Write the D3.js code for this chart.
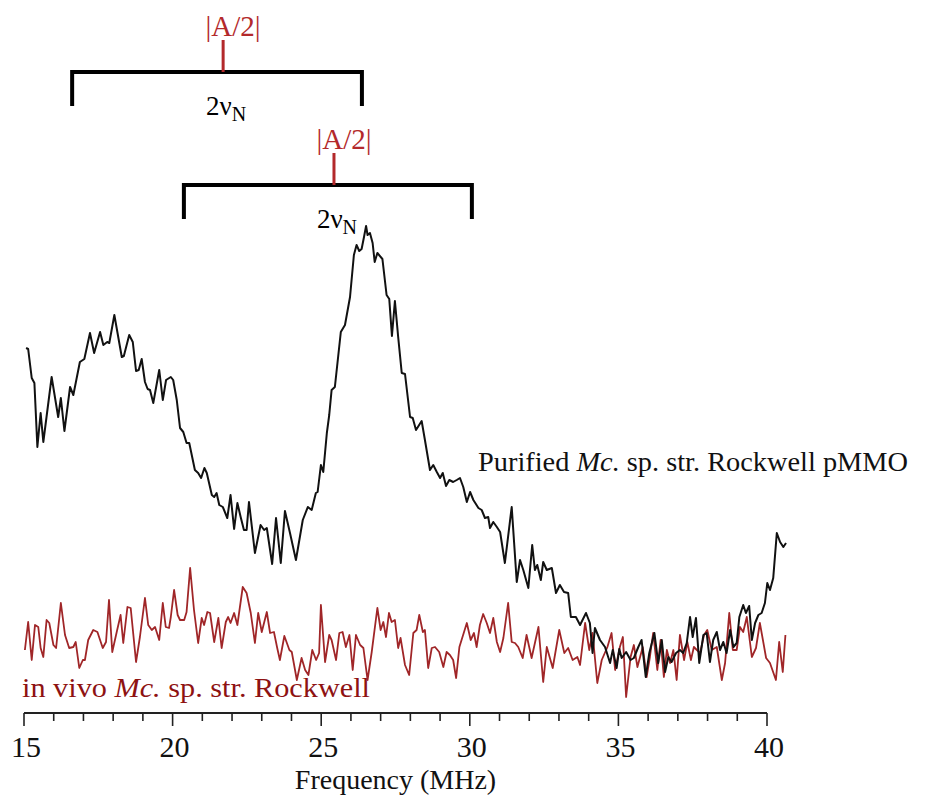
<!DOCTYPE html>
<html>
<head>
<meta charset="utf-8">
<script src="https://cdn.jsdelivr.net/npm/d3@7"></script>
<style>
  html, body { margin: 0; padding: 0; background: #fff; }
  svg { display: block; }
  text { font-family: "Liberation Serif", "Times New Roman", serif; }
</style>
</head>
<body>
<svg id="chart" width="929" height="795"></svg>
<script>
// ---- Data (frequency in MHz, signal in arbitrary units) ----
const xTicks = [15, 20, 25, 30, 35, 40];
const xMinorTicks = d3.range(15, 41, 1);
const xLabel = "Frequency (MHz)";

const purified = [
  [15.07,365],[15.14,364],[15.26,335],[15.35,330],[15.45,266],[15.56,300],[15.65,271],[15.93,336],
  [16.15,296],[16.24,315],[16.36,282],[16.55,326],[16.66,318],[16.88,351],[17.03,354],[17.22,380],
  [17.36,360],[17.56,381],[17.67,368],[17.80,371],[17.87,370],[18.04,398],[18.29,356],[18.36,357],
  [18.54,378],[18.66,371],[18.77,342],[18.86,343],[18.96,354],[19.07,331],[19.16,324],[19.24,323],
  [19.35,310],[19.55,343],[19.67,313],[19.78,333],[19.94,336],[20.02,333],[20.14,313],[20.25,285],
  [20.36,281],[20.47,270],[20.56,270],[20.75,243],[20.86,240],[20.96,235],[21.07,245],[21.15,240],
  [21.32,218],[21.40,216],[21.48,220],[21.57,208],[21.69,206],[21.84,195],[21.95,218],[22.07,184],
  [22.18,210],[22.29,196],[22.40,183],[22.49,183],[22.57,211],[22.77,160],[22.96,188],[23.08,183],
  [23.17,185],[23.35,149],[23.48,195],[23.64,150],[23.78,202],[23.95,180],[24.15,153],[24.38,193],
  [24.55,206],[24.68,203],[24.82,220],[24.88,221],[24.99,248],[25.07,241],[25.19,280],[25.27,298],
  [25.35,323],[25.46,326],[25.66,381],[25.80,388],[25.97,416],[26.10,458],[26.19,468],[26.28,462],
  [26.36,464],[26.44,476],[26.51,487],[26.56,478],[26.64,480],[26.73,470],[26.80,451],[26.89,460],
  [27.06,454],[27.20,418],[27.29,414],[27.38,377],[27.48,412],[27.59,376],[27.71,340],[27.82,339],
  [27.99,296],[28.08,295],[28.19,283],[28.38,292],[28.49,273],[28.66,243],[28.77,248],[28.89,241],
  [29.00,235],[29.09,240],[29.20,227],[29.31,233],[29.44,231],[29.56,233],[29.67,235],[29.78,226],
  [29.90,211],[30.01,221],[30.12,213],[30.29,205],[30.40,203],[30.51,195],[30.62,196],[30.68,185],
  [30.79,191],[30.91,186],[31.02,181],[31.18,150],[31.41,206],[31.58,131],[31.69,153],[31.80,143],
  [31.97,125],[32.10,168],[32.19,143],[32.27,148],[32.39,133],[32.47,151],[32.59,143],[32.76,145],
  [32.90,120],[33.03,128],[33.17,121],[33.31,120],[33.40,96],[33.57,96],[33.71,88],[33.91,100],
  [34.04,90],[34.13,60],[34.21,85],[34.38,73],[34.55,66],[34.72,50],[34.81,63],[34.94,45],
  [35.03,64],[35.11,55],[35.26,61],[35.41,53],[35.52,55],[35.67,66],[35.78,73],[35.92,36],
  [36.04,60],[36.21,80],[36.34,50],[36.46,73],[36.57,41],[36.68,56],[36.79,51],[36.94,60],
  [37.07,63],[37.18,60],[37.30,70],[37.41,96],[37.50,76],[37.61,95],[37.72,50],[37.86,78],
  [37.97,80],[38.08,51],[38.19,73],[38.31,81],[38.42,63],[38.53,71],[38.64,60],[38.76,83],
  [38.87,66],[38.98,70],[39.07,96],[39.20,108],[39.29,100],[39.40,107],[39.49,73],[39.60,90],
  [39.71,98],[39.82,100],[39.93,110],[40.01,130],[40.10,123],[40.21,135],[40.33,180],[40.44,171],
  [40.55,166],[40.64,170]
];

const inVivo = [
  [15.03,63],[15.14,91],[15.26,53],[15.37,88],[15.48,86],[15.56,65],[15.65,56],[15.76,93],
  [15.85,90],[15.99,68],[16.08,65],[16.24,110],[16.38,78],[16.52,65],[16.66,66],[16.74,71],
  [16.86,45],[16.98,53],[17.05,53],[17.16,73],[17.33,83],[17.47,81],[17.65,65],[17.76,71],
  [17.86,113],[17.97,61],[18.12,81],[18.25,98],[18.34,70],[18.48,106],[18.59,105],[18.77,51],
  [18.90,76],[19.07,115],[19.18,88],[19.30,83],[19.41,86],[19.55,73],[19.67,110],[19.77,86],
  [19.88,85],[19.94,96],[20.05,123],[20.17,98],[20.25,93],[20.39,93],[20.47,101],[20.59,145],
  [20.72,103],[20.86,70],[20.98,95],[21.06,88],[21.17,101],[21.26,100],[21.40,71],[21.54,95],
  [21.65,65],[21.79,91],[21.87,96],[21.95,90],[22.07,100],[22.18,88],[22.36,126],[22.49,120],
  [22.63,100],[22.77,70],[22.88,100],[23.00,81],[23.17,101],[23.28,80],[23.41,81],[23.52,65],
  [23.61,53],[23.76,77],[23.93,63],[24.01,61],[24.18,33],[24.34,55],[24.46,43],[24.57,38],
  [24.70,63],[24.83,53],[24.93,60],[24.99,108],[25.13,51],[25.27,78],[25.35,73],[25.50,53],
  [25.61,80],[25.72,81],[25.83,66],[25.95,78],[26.06,43],[26.17,78],[26.31,68],[26.42,65],
  [26.56,33],[26.70,61],[26.89,105],[27.00,83],[27.09,91],[27.18,76],[27.28,100],[27.37,91],
  [27.48,93],[27.59,65],[27.67,75],[27.82,48],[27.96,38],[28.10,80],[28.21,83],[28.30,98],
  [28.42,81],[28.49,83],[28.60,45],[28.72,65],[28.83,66],[28.97,61],[29.11,46],[29.22,61],
  [29.33,58],[29.44,53],[29.54,35],[29.65,66],[29.90,90],[30.03,73],[30.14,80],[30.23,66],
  [30.34,88],[30.45,99],[30.57,90],[30.68,80],[30.79,95],[30.91,71],[31.02,61],[31.13,75],
  [31.29,110],[31.41,71],[31.52,70],[31.63,66],[31.78,55],[31.91,78],[32.08,55],[32.31,86],
  [32.47,31],[32.59,66],[32.79,45],[33.01,83],[33.18,60],[33.31,65],[33.46,53],[33.62,56],
  [33.71,48],[33.88,90],[34.02,63],[34.13,80],[34.29,30],[34.44,53],[34.63,66],[34.77,80],
  [34.89,43],[35.05,66],[35.15,76],[35.26,16],[35.41,56],[35.52,68],[35.64,46],[35.82,66],
  [35.95,36],[36.06,56],[36.17,80],[36.31,43],[36.42,73],[36.53,36],[36.63,63],[36.74,50],
  [36.85,63],[36.96,33],[37.07,78],[37.21,53],[37.32,71],[37.44,53],[37.54,66],[37.64,63],
  [37.75,60],[37.88,78],[37.99,83],[38.14,63],[38.31,66],[38.48,33],[38.59,50],[38.73,100],
  [38.85,63],[38.98,63],[39.09,86],[39.20,81],[39.32,96],[39.49,56],[39.63,65],[39.76,90],
  [39.97,55],[40.10,50],[40.30,33],[40.41,71],[40.53,41],[40.62,78]
];

// Hyperfine annotation brackets: span of 2νN (MHz), centre |A/2| (MHz), bracket level (a.u.)
const bracketLo = [16.62, 20.38];
const bracketHi = [26.37, 30.07];
const bracketCentre = [21.70, 25.43];
const bracketLevel = [641, 528];

const seriesNames = ["Purified ", "Mc.", " sp. str. Rockwell pMMO"];
const vivoNames = ["in vivo ", "Mc.", " sp. str. Rockwell"];

// ---- Drawing ----
const svg = d3.select("#chart");
const x = d3.scaleLinear().domain([15, 40]).range([24, 767]);
const y = d3.scaleLinear().domain([0, 500]).range([713, 213]);

const BLACK = "#111";
const RED_LINE = "#a02628";
const RED_TEXT = "#8e1212";
const RED_ANN = "#b3292b";

// axis
const axisG = svg.append("g").attr("transform", `translate(0,${y(0)})`);
axisG.append("line")
  .attr("x1", x(15)).attr("x2", x(40)).attr("y1", 0).attr("y2", 0)
  .attr("stroke", "#222").attr("stroke-width", 2);
axisG.selectAll("line.minor").data(xMinorTicks).join("line")
  .attr("class", "minor")
  .attr("x1", d => x(d)).attr("x2", d => x(d))
  .attr("y1", 0).attr("y2", d => (d % 5 === 0 ? 13 : 8))
  .attr("stroke", "#222").attr("stroke-width", 1.6);
axisG.selectAll("text.tl").data(xTicks).join("text")
  .attr("class", "tl")
  .attr("x", d => x(d) + 2).attr("y", 44)
  .attr("text-anchor", "middle")
  .attr("font-size", 30)
  .attr("fill", "#111")
  .text(d => d);
svg.append("text")
  .attr("x", (x(15) + x(40)) / 2).attr("y", 789)
  .attr("text-anchor", "middle")
  .attr("font-size", 28)
  .attr("fill", "#111")
  .text(xLabel);

// traces
const line = d3.line().x(d => x(d[0])).y(d => y(d[1]));
svg.append("path").datum(inVivo)
  .attr("d", line).attr("fill", "none")
  .attr("stroke", RED_LINE).attr("stroke-width", 1.8).attr("stroke-linejoin", "round");
svg.append("path").datum(purified)
  .attr("d", line).attr("fill", "none")
  .attr("stroke", BLACK).attr("stroke-width", 2).attr("stroke-linejoin", "round");

// brackets
const legLen = 34, tickLen = 32;
bracketLo.forEach((lo, i) => {
  const hi = bracketHi[i], c = bracketCentre[i], yy = y(bracketLevel[i]);
  const g = svg.append("g");
  g.append("path")
    .attr("d", `M${x(lo)},${yy + legLen}V${yy}H${x(hi)}V${yy + legLen}`)
    .attr("fill", "none").attr("stroke", "#000").attr("stroke-width", 4);
  g.append("line")
    .attr("x1", x(c)).attr("x2", x(c)).attr("y1", yy).attr("y2", yy - tickLen)
    .attr("stroke", RED_ANN).attr("stroke-width", 3);
  g.append("text")
    .attr("x", x(c) + 10).attr("y", yy - 36)
    .attr("text-anchor", "middle").attr("font-size", 29).attr("fill", RED_ANN)
    .text("|A/2|");
  const t = g.append("text")
    .attr("x", x(c) + 3).attr("y", yy + 43)
    .attr("text-anchor", "middle").attr("font-size", 27).attr("fill", "#000");
  t.append("tspan").text("2ν");
  t.append("tspan").attr("font-size", 20).attr("dy", 6).text("N");
});

// series labels
function label(parts, xx, yy, color, size, width) {
  const t = svg.append("text").attr("x", xx).attr("y", yy)
    .attr("font-size", size).attr("fill", color)
    .attr("textLength", width).attr("lengthAdjust", "spacingAndGlyphs");
  parts.forEach((p, i) => t.append("tspan").attr("font-style", i === 1 ? "italic" : "normal").text(p));
  return t;
}
label(seriesNames, 478, 471, "#111", 28, 430);
label(vivoNames, 22, 697, RED_TEXT, 28, 348);
</script>
</body>
</html>
